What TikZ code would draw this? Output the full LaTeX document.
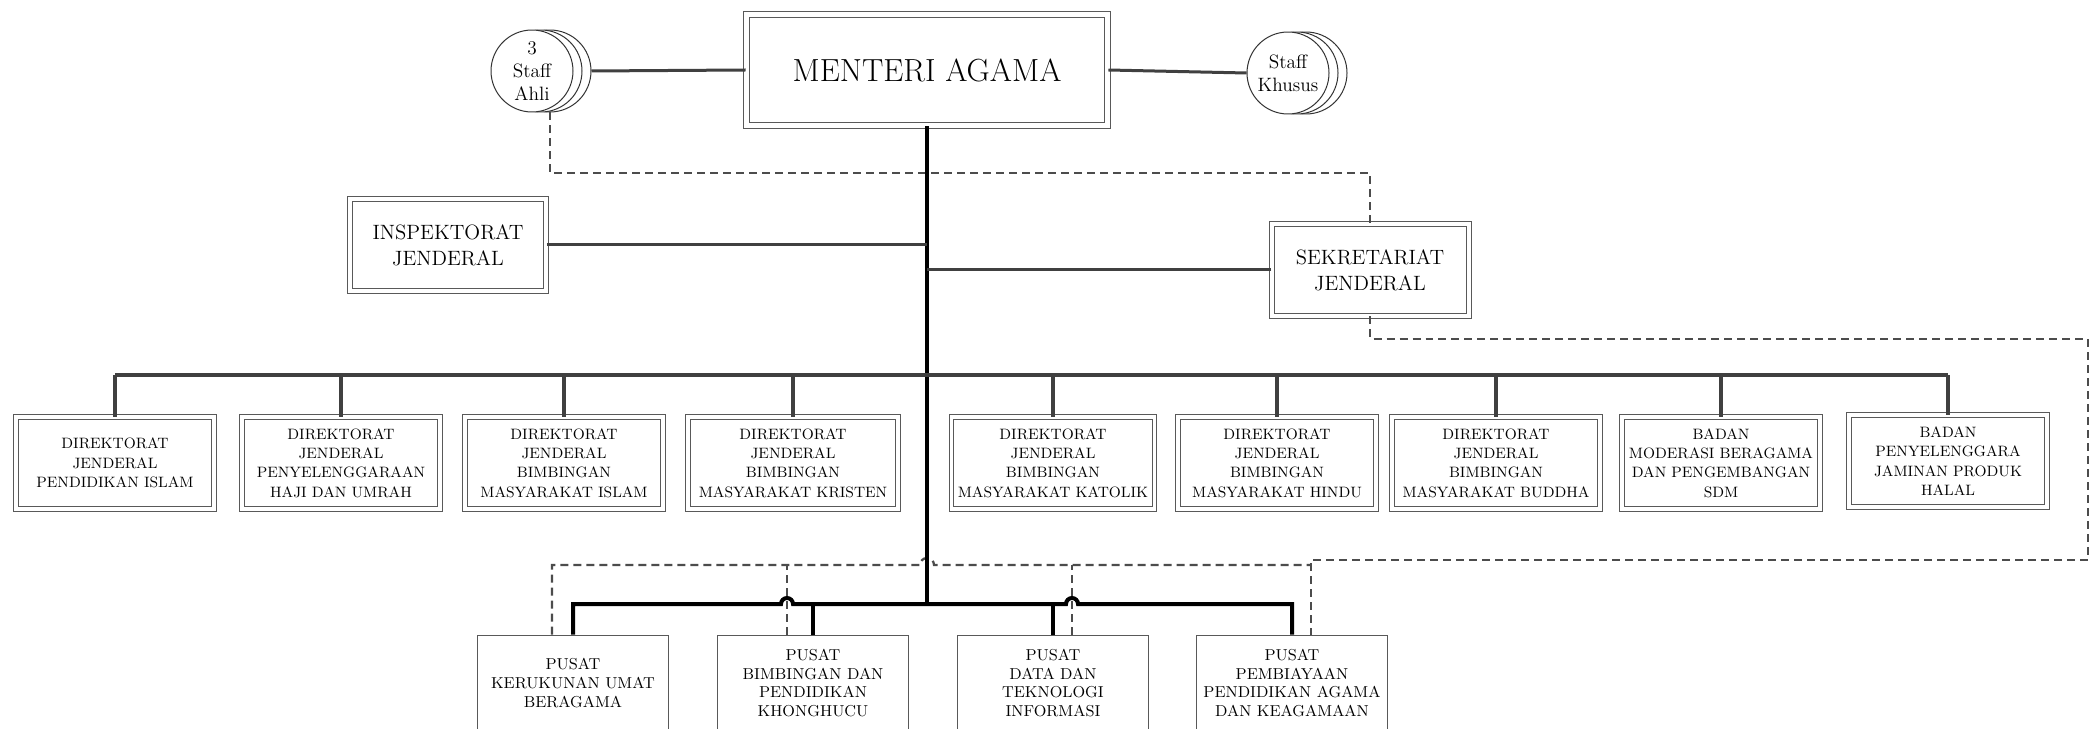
\documentclass[tikz,border=0pt]{standalone}
\usepackage{xcolor}
\usepackage{tikz}
\usetikzlibrary{positioning, calc}

\begin{document}
\begin{tikzpicture}[x=0.02cm, y=-0.02cm,
  boxline/.style={draw=black!65, line width=0.02cm},
  mainbox/.style={rectangle, boxline, double, double distance=0.1cm, minimum width=7.24cm, minimum height=2.24cm, font=\fontsize{18.2}{21}\selectfont},
  unitbox/.style={rectangle, boxline, double, double distance=0.08cm, minimum width=3.94cm, minimum height=1.84cm, align=center, font=\fontsize{11.8}{15}\selectfont},
  dirbox/.style={rectangle, boxline, double, double distance=0.07cm, minimum width=3.96cm, minimum height=1.84cm, inner sep=1pt, align=center, font=\fontsize{8.55}{11}\selectfont},
  pusatbox/.style={rectangle, boxline, minimum width=3.82cm, minimum height=1.92cm, align=center, font=\fontsize{9}{10.8}\selectfont},
  staffcirc/.style={circle, draw=black!80, line width=0.02cm, fill=white, minimum size=1.64cm, inner sep=0pt},
  stafftext/.style={font=\fontsize{11}{13}\selectfont, align=center},
  trunk/.style={line width=0.08cm, black},
  busline/.style={line width=0.08cm, black!75},
  linkline/.style={line width=0.06cm, black!75},
  dashline/.style={line width=0.045cm, black!70, dash pattern=on 0.16cm off 0.1cm}
]

\path[use as bounding box, fill=white] (0,0) rectangle (2091,729);
\clip (0,0) rectangle (2091,729);

% Nodes
\node[mainbox] (menteri) at (927,70) {MENTERI AGAMA};

\node[staffcirc] (ahli3) at (550,71) {};
\node[staffcirc] (ahli2) at (541,71) {};
\node[staffcirc, label={[stafftext]center:3\\Staff\\Ahli}] (ahli) at (532,71) {};

\node[staffcirc] (khusus3) at (1306,73) {};
\node[staffcirc] (khusus2) at (1297,73) {};
\node[staffcirc, label={[stafftext]center:Staff\\Khusus}] (khusus) at (1288,73) {};

\node[unitbox] (itjen) at (448,245) {INSPEKTORAT\\JENDERAL};
\node[unitbox] (setjen) at (1370,270) {SEKRETARIAT\\JENDERAL};

\node[dirbox] (pendis) at (115,463) {DIREKTORAT\\JENDERAL\\PENDIDIKAN ISLAM};
\node[dirbox] (phu) at (341,463) {DIREKTORAT\\JENDERAL\\PENYELENGGARAAN\\HAJI DAN UMRAH};
\node[dirbox] (bimasislam) at (564,463) {DIREKTORAT\\JENDERAL\\BIMBINGAN\\MASYARAKAT ISLAM};
\node[dirbox, minimum width=4.2cm] (bimaskristen) at (793,463) {DIREKTORAT\\JENDERAL\\BIMBINGAN\\MASYARAKAT KRISTEN};
\node[dirbox, minimum width=4.06cm] (bimaskatolik) at (1053,463) {DIREKTORAT\\JENDERAL\\BIMBINGAN\\MASYARAKAT KATOLIK};
\node[dirbox] (bimashindu) at (1277,463) {DIREKTORAT\\JENDERAL\\BIMBINGAN\\MASYARAKAT HINDU};
\node[dirbox, minimum width=4.16cm] (bimasbuddha) at (1496,463) {DIREKTORAT\\JENDERAL\\BIMBINGAN\\MASYARAKAT BUDDHA};
\node[dirbox] (bmbsdm) at (1721,463) {BADAN\\MODERASI BERAGAMA\\DAN PENGEMBANGAN\\SDM};
\node[dirbox] (bpjph) at (1948,461) {BADAN\\PENYELENGGARA\\JAMINAN PRODUK\\HALAL};

\node[pusatbox] (pkub) at (573,683) {PUSAT\\KERUKUNAN UMAT\\BERAGAMA};
\node[pusatbox] (pusbinkhonghucu) at (813,683) {PUSAT\\BIMBINGAN DAN\\PENDIDIKAN\\KHONGHUCU};
\node[pusatbox] (pusdatin) at (1053,683) {PUSAT\\DATA DAN\\TEKNOLOGI\\INFORMASI};
\node[pusatbox] (puspenma) at (1292,683) {PUSAT\\PEMBIAYAAN\\PENDIDIKAN AGAMA\\DAN KEAGAMAAN};

\coordinate (dirbus) at (0,375);
\coordinate (pusbus) at (0,604);
\coordinate (ahlidash) at (0,173);
\coordinate (setjendash) at (0,339);
\coordinate (rightdash) at (2088,560);

% Dashed lines
\draw[dashline] (ahli3.south) |- (setjen.north |- ahlidash) -- (setjen.north);
\draw[dashline] (setjen.south) |- (rightdash |- setjendash) -- (rightdash) -| ($(puspenma.north)+(19,0)$);
\draw[dashline] ($(pkub.north)+(-21,0)$) |- (920,565) arc[start angle=180, end angle=360, radius=7] -- (1311,565);
\draw[dashline] ($(pusbinkhonghucu.north)+(-26,0)$) -- ($(pusbinkhonghucu.north)+(-26,-70)$);
\draw[dashline] ($(pusdatin.north)+(19,0)$) -- ($(pusdatin.north)+(19,-70)$);

% Lines
\draw[linkline] (ahli3.east) -- (menteri.west);
\draw[linkline] (menteri.east) -- (khusus.west);
\draw[trunk] (menteri.south) -- (menteri.south |- pusbus);
\draw[linkline] (itjen.east) -- (itjen.east -| menteri.south);
\draw[linkline] (setjen.west) -- (setjen.west -| menteri.south);

\draw[busline] (pendis.north |- dirbus) -- (bpjph.north |- dirbus);
\foreach \n in {pendis, phu, bimasislam, bimaskristen, bimaskatolik, bimashindu, bimasbuddha, bmbsdm, bpjph}
  \draw[busline] (\n.north |- dirbus) -- (\n.north);

\draw[trunk] (pkub.north) -- (pkub.north |- pusbus) -- (781,604) arc[start angle=180, end angle=360, radius=6] -- (1066,604) arc[start angle=180, end angle=360, radius=6] -- (puspenma.north |- pusbus) -- (puspenma.north);
\draw[trunk] (pusbinkhonghucu.north) -- (pusbinkhonghucu.north |- pusbus);
\draw[trunk] (pusdatin.north) -- (pusdatin.north |- pusbus);

\end{tikzpicture}
\end{document}
